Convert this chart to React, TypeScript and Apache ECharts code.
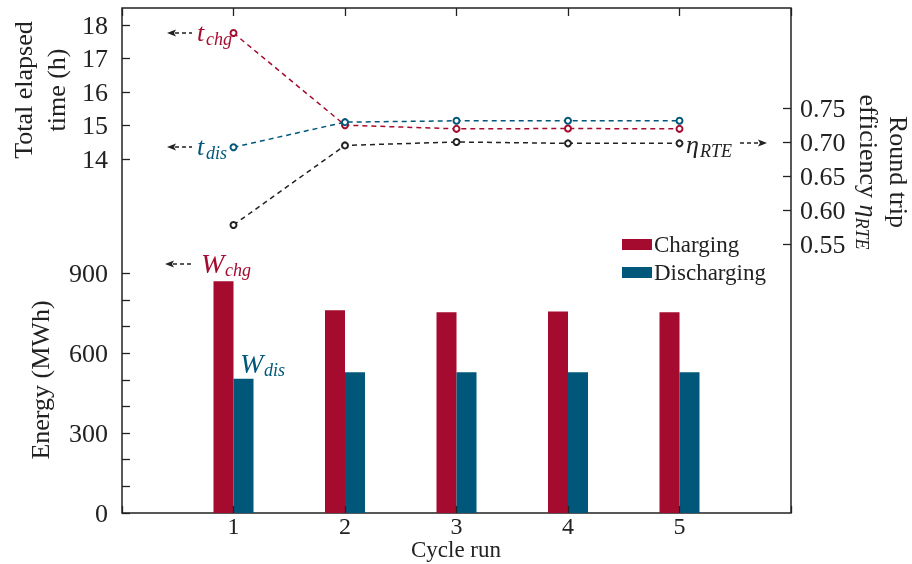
import React, { useEffect, useRef } from 'react';
import * as echarts from 'echarts';

const cycles = [1, 2, 3, 4, 5];
const tChg = [17.76, 15.01, 14.9, 14.91, 14.9];
const tDis = [14.35, 15.1, 15.14, 15.14, 15.14];
const eta = [0.578, 0.695, 0.7, 0.698, 0.698];
const wChg = [870, 761, 754, 757, 754];
const wDis = [504, 529, 529, 529, 529];
const energyLabels = [0, 300, 600, 900];

const RED = '#A50B2F';
const BLUE = '#00577A';
const INK = '#222222';
const FONT = '"Liberation Serif", "DejaVu Serif", serif';

const L = 122;
const R = 121;
const B = 51;

function arrowLeft(x: number, y: number, len: number) {
  return [
    { type: 'line', shape: { x1: x + 8, y1: y, x2: x + len, y2: y }, style: { stroke: INK, lineWidth: 1.3, lineDash: [4, 3] } },
    { type: 'polygon', shape: { points: [[x, y], [x + 9, y - 3.5], [x + 7, y], [x + 9, y + 3.5]] }, style: { fill: INK } },
  ];
}
function arrowRight(x: number, y: number, len: number) {
  return [
    { type: 'line', shape: { x1: x - len, y1: y, x2: x - 8, y2: y }, style: { stroke: INK, lineWidth: 1.3, lineDash: [4, 3] } },
    { type: 'polygon', shape: { points: [[x, y], [x - 9, y - 3.5], [x - 7, y], [x - 9, y + 3.5]] }, style: { fill: INK } },
  ];
}
function mathLabel(x: number, y: number, main: string, sub: string, color: string, subDx: number, mainSize = 26) {
  return [
    { type: 'text', x, y, style: { text: main, fontFamily: FONT, fontStyle: 'italic', fontSize: mainSize, fill: color, align: 'left', verticalAlign: 'middle' } },
    { type: 'text', x: x + subDx, y: y + 7, style: { text: sub, fontFamily: FONT, fontStyle: 'italic', fontSize: 18, fill: color, align: 'left', verticalAlign: 'middle' } },
  ];
}

const hiddenX = (gridIndex: number) => ({ type: 'value', gridIndex, min: 0, max: 6, show: false, axisLine: { onZero: false } });
const tickStyle = { show: true, inside: true, length: 8, lineStyle: { color: INK, width: 1.3 } };

export default function App() {
  const ref = useRef<HTMLDivElement>(null);
  useEffect(() => {
    const chart = echarts.init(ref.current!, null, { renderer: 'svg' });
    const gridBase = { left: L, right: R, containLabel: false, outerBoundsMode: 'none' };
    const option: any = {
      animation: false,
      textStyle: { fontFamily: FONT, color: INK },
      grid: [
        { ...gridBase, top: 8, bottom: B, show: true, borderColor: INK, borderWidth: 1.5, backgroundColor: 'transparent' },
        { ...gridBase, top: 273.33, bottom: B },
        { ...gridBase, top: 25, height: 134 },
        { ...gridBase, top: 108, height: 136 },
      ],
      xAxis: [
        {
          type: 'value', gridIndex: 0, min: 0, max: 6, interval: 1, position: 'bottom', z: 10,
          axisLine: { show: false, onZero: false },
          axisTick: { ...tickStyle, length: 7 },
          splitLine: { show: false },
          axisLabel: { fontSize: 24, lineHeight: 20, color: INK, margin: 3, fontFamily: FONT, formatter: (v: number) => (cycles.includes(v) ? String(v) : '') },
        },
        {
          type: 'value', gridIndex: 0, min: 0, max: 6, interval: 1, position: 'top', z: 10,
          axisLine: { show: false, onZero: false },
          axisTick: tickStyle,
          splitLine: { show: false },
          axisLabel: { show: false },
        },
        hiddenX(1),
        hiddenX(2),
        hiddenX(3),
      ],
      yAxis: [
        { type: 'value', gridIndex: 0, min: 0, max: 1, show: false, axisLine: { onZero: false } },
        {
          type: 'value', gridIndex: 1, min: 0, max: 900, interval: 100, position: 'left',
          axisLine: { show: false, onZero: false },
          axisTick: tickStyle,
          splitLine: { show: false },
          axisLabel: { fontSize: 26, color: INK, margin: 14, fontFamily: FONT, formatter: (v: number) => (energyLabels.includes(v) ? String(v) : '') },
        },
        {
          type: 'value', gridIndex: 2, min: 14, max: 18, interval: 1, position: 'left',
          axisLine: { show: false, onZero: false },
          axisTick: tickStyle,
          splitLine: { show: false },
          axisLabel: { fontSize: 26, color: INK, margin: 14, fontFamily: FONT },
        },
        {
          type: 'value', gridIndex: 3, min: 0.55, max: 0.75, interval: 0.05, position: 'right',
          axisLine: { show: false, onZero: false },
          axisTick: tickStyle,
          splitLine: { show: false },
          axisLabel: { fontSize: 26, color: INK, margin: 9, fontFamily: FONT, formatter: (v: number) => v.toFixed(2) },
        },
      ],
      legend: {
        data: ['Charging', 'Discharging'],
        orient: 'vertical', left: 622, top: 233, padding: 0, itemGap: 5,
        itemWidth: 30, itemHeight: 11, icon: 'rect',
        textStyle: { fontSize: 23, color: INK, fontFamily: FONT, padding: [0, 0, 0, -3] },
      },
      series: [
        {
          name: 'Charging', type: 'bar', xAxisIndex: 2, yAxisIndex: 1,
          data: cycles.map((c, i) => [c, wChg[i]]), barWidth: 20, barGap: '0%',
          itemStyle: { color: RED },
        },
        {
          name: 'Discharging', type: 'bar', xAxisIndex: 2, yAxisIndex: 1,
          data: cycles.map((c, i) => [c, wDis[i]]), barWidth: 20, barGap: '0%',
          itemStyle: { color: BLUE },
        },
        {
          name: 't_chg', type: 'line', xAxisIndex: 3, yAxisIndex: 2,
          data: cycles.map((c, i) => [c, tChg[i]]),
          symbol: 'emptyCircle', symbolSize: 6,
          lineStyle: { color: RED, width: 1.5, type: [5, 4] },
          itemStyle: { color: RED, borderWidth: 1.6 }, z: 5,
        },
        {
          name: 't_dis', type: 'line', xAxisIndex: 3, yAxisIndex: 2,
          data: cycles.map((c, i) => [c, tDis[i]]),
          symbol: 'emptyCircle', symbolSize: 6,
          lineStyle: { color: BLUE, width: 1.5, type: [5, 4] },
          itemStyle: { color: BLUE, borderWidth: 1.6 }, z: 6,
        },
        {
          name: 'eta', type: 'line', xAxisIndex: 4, yAxisIndex: 3,
          data: cycles.map((c, i) => [c, eta[i]]),
          symbol: 'emptyCircle', symbolSize: 6,
          lineStyle: { color: INK, width: 1.5, type: [5, 4] },
          itemStyle: { color: INK, borderWidth: 1.6 }, z: 5,
        },
      ],
      graphic: [
        ...arrowLeft(167, 33, 25),
        ...mathLabel(197, 32, 't', 'chg', RED, 9),
        ...arrowLeft(167, 147, 25),
        ...mathLabel(197, 146, 't', 'dis', BLUE, 9),
        ...arrowLeft(165, 264, 27),
        ...mathLabel(201, 263, 'W', 'chg', RED, 24, 28),
        ...mathLabel(240, 363, 'W', 'dis', BLUE, 24, 28),
        { type: 'text', x: 686, y: 144, style: { text: 'η', fontFamily: FONT, fontStyle: 'italic', fontSize: 26, fill: INK, align: 'left', verticalAlign: 'middle' } },
        { type: 'text', x: 700, y: 151, style: { text: 'RTE', fontFamily: FONT, fontStyle: 'italic', fontSize: 18, fill: INK, align: 'left', verticalAlign: 'middle' } },
        ...arrowRight(767, 143, 27),
        {
          type: 'text', x: 456, y: 549,
          style: { text: 'Cycle run', fontFamily: FONT, fontSize: 23, lineHeight: 20, fill: INK, align: 'center', verticalAlign: 'middle' },
        },
        {
          type: 'text', x: 40, y: 90, rotation: Math.PI / 2,
          style: { text: 'Total elapsed\ntime (h)', fontFamily: FONT, fontSize: 26, lineHeight: 33, fill: INK, align: 'center', verticalAlign: 'middle' },
        },
        {
          type: 'text', x: 40, y: 380, rotation: Math.PI / 2,
          style: { text: 'Energy (MWh)', fontFamily: FONT, fontSize: 26, fill: INK, align: 'center', verticalAlign: 'middle' },
        },
        {
          type: 'text', x: 883, y: 172, rotation: -Math.PI / 2,
          style: {
            text: 'Round trip\nefficiency {e|η}{s|RTE}', fontFamily: FONT, fontSize: 26, lineHeight: 30, fill: INK, align: 'center', verticalAlign: 'middle',
            rich: {
              e: { fontFamily: FONT, fontStyle: 'italic', fontSize: 26, lineHeight: 30, fill: INK },
              s: { fontFamily: FONT, fontStyle: 'italic', fontSize: 18, lineHeight: 30, fill: INK, verticalAlign: 'bottom' },
            },
          },
        },
      ],
    };
    chart.setOption(option);
    return () => chart.dispose();
  }, []);
  return <div ref={ref} style={{ position: 'fixed', left: 0, top: 0, width: 912, height: 564 }} />;
}
